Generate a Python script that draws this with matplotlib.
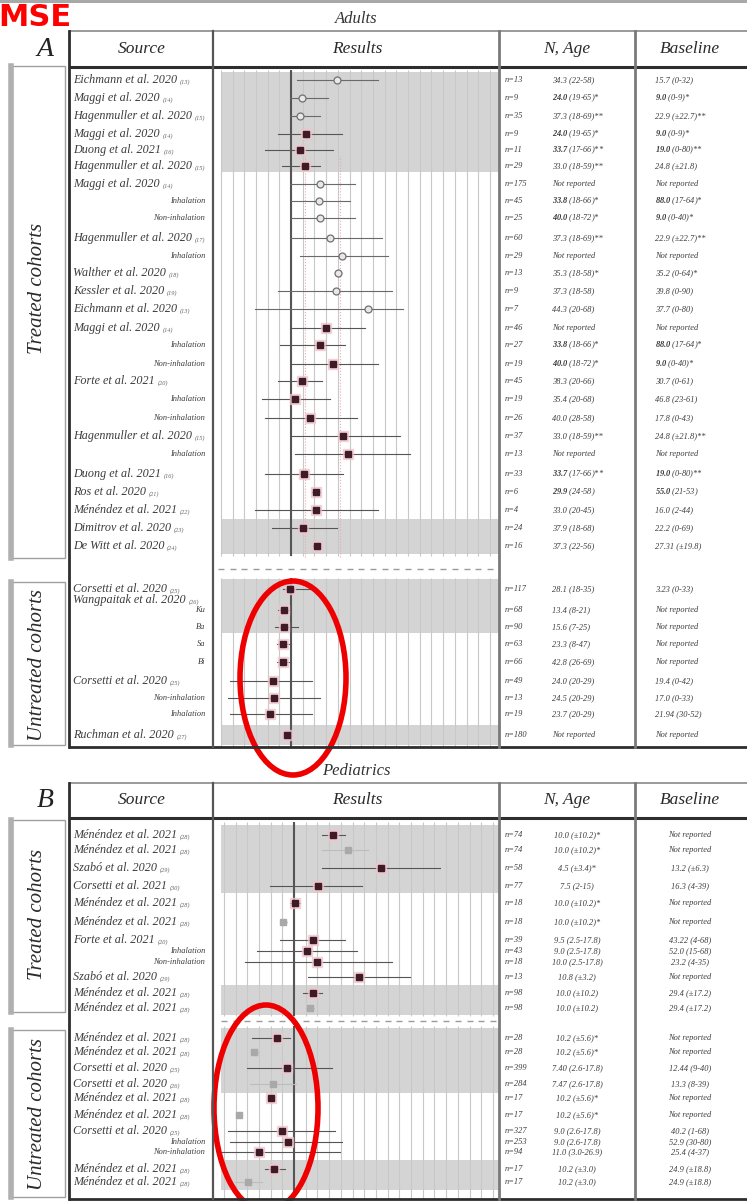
import numpy as np
import matplotlib
matplotlib.use("Agg")
import matplotlib.pyplot as plt
from matplotlib.patches import Ellipse, Rectangle

plt.rcParams['font.family'] = ['Liberation Serif', 'DejaVu Serif']
plt.rcParams['mathtext.fontset'] = 'custom'
plt.rcParams['mathtext.rm'] = 'Liberation Serif:italic'
plt.rcParams['mathtext.it'] = 'Liberation Serif:italic'
plt.rcParams['mathtext.bf'] = 'Liberation Serif:bold:italic'

W, H = 747, 1201
PXU = 46.8          # pixels per effect unit in the results column
TXT = '#3c3c3c'

# ---------------- Adults, treated cohorts ----------------
a_tr_src = ["Eichmann et al. 2020", "Maggi et al. 2020", "Hagenmuller et al. 2020", "Maggi et al. 2020",
            "Duong et al. 2021", "Hagenmuller et al. 2020", "Maggi et al. 2020", "Inhalation",
            "Non-inhalation", "Hagenmuller et al. 2020", "Inhalation", "Walther et al. 2020",
            "Kessler et al. 2020", "Eichmann et al. 2020", "Maggi et al. 2020", "Inhalation",
            "Non-inhalation", "Forte et al. 2021", "Inhalation", "Non-inhalation",
            "Hagenmuller et al. 2020", "Inhalation", "Duong et al. 2021", "Ros et al. 2020",
            "Ménéndez et al. 2021", "Dimitrov et al. 2020", "De Witt et al. 2020"]
a_tr_ref = ["(13)", "(14)", "(15)", "(14)", "(16)", "(15)", "(14)", "", "", "(17)", "", "(18)",
            "(19)", "(13)", "(14)", "", "", "(20)", "", "", "(15)", "", "(16)", "(21)", "(22)", "(23)", "(24)"]
a_tr_est = [0.98, 0.24, 0.19, 0.32, 0.19, 0.30, 0.62, 0.60, 0.62, 0.83, 1.09, 1.00, 0.96, 1.65,
            0.75, 0.62, 0.90, 0.24, 0.09, 0.41, 1.11, 1.22, 0.28, 0.53, 0.53, 0.26, 0.56]
a_tr_lo = [0.13, -0.02, -0.02, -0.28, -0.56, -0.19, -0.02, 0.00, 0.00, -0.02, 0.19, 0.94, -0.28, -0.77,
           -0.02, -0.24, -0.02, -0.28, -0.62, -0.56, -0.02, 0.09, -0.56, 0.45, -0.77, -0.41, 0.47]
a_tr_hi = [1.86, 0.79, 0.62, 1.09, 0.90, 0.62, 1.37, 1.26, 1.37, 1.94, 2.07, 1.07, 2.16, 2.40,
           1.58, 1.15, 1.86, 0.66, 0.83, 1.41, 2.33, 2.54, 1.11, 0.62, 1.86, 0.98, 0.62]
a_tr_kind = ["open"] * 3 + ["filled"] * 3 + ["open"] * 8 + ["filled"] * 13
a_tr_n = ["n=13", "n=9", "n=35", "n=9", "n=11", "n=29", "n=175", "n=45", "n=25", "n=60", "n=29",
          "n=13", "n=9", "n=7", "n=46", "n=27", "n=19", "n=45", "n=19", "n=26", "n=37", "n=13",
          "n=33", "n=6", "n=4", "n=24", "n=16"]
a_tr_age = ["34.3 (22-58)", r"$\mathbf{24.0}$ (19-65)*", "37.3 (18-69)**", r"$\mathbf{24.0}$ (19-65)*",
            r"$\mathbf{33.7}$ (17-66)**", "33.0 (18-59)**", "Not reported", r"$\mathbf{33.8}$ (18-66)*",
            r"$\mathbf{40.0}$ (18-72)*", "37.3 (18-69)**", "Not reported", "35.3 (18-58)*",
            "37.3 (18-58)", "44.3 (20-68)", "Not reported", r"$\mathbf{33.8}$ (18-66)*",
            r"$\mathbf{40.0}$ (18-72)*", "38.3 (20-66)", "35.4 (20-68)", "40.0 (28-58)",
            "33.0 (18-59)**", "Not reported", r"$\mathbf{33.7}$ (17-66)**", r"$\mathbf{29.9}$ (24-58)",
            "33.0 (20-45)", "37.9 (18-68)", "37.3 (22-56)"]
a_tr_base = ["15.7 (0-32)", r"$\mathbf{9.0}$ (0-9)*", "22.9 (±22.7)**", r"$\mathbf{9.0}$ (0-9)*",
             r"$\mathbf{19.0}$ (0-80)**", "24.8 (±21.8)", "Not reported", r"$\mathbf{88.0}$ (17-64)*",
             r"$\mathbf{9.0}$ (0-40)*", "22.9 (±22.7)**", "Not reported", "35.2 (0-64)*",
             "39.8 (0-90)", "37.7 (0-80)", "Not reported", r"$\mathbf{88.0}$ (17-64)*",
             r"$\mathbf{9.0}$ (0-40)*", "30.7 (0-61)", "46.8 (23-61)", "17.8 (0-43)",
             "24.8 (±21.8)**", "Not reported", r"$\mathbf{19.0}$ (0-80)**", r"$\mathbf{55.0}$ (21-53)",
             "16.0 (2-44)", "22.2 (0-69)", "27.31 (±19.8)"]

# ---------------- Adults, untreated cohorts ----------------
a_un_src = ["Corsetti et al. 2020", "Ku", "Ba", "Sa", "Bi", "Corsetti et al. 2020",
            "Non-inhalation", "Inhalation", "Ruchman et al. 2020"]
a_un_ref = ["(25)", "", "", "", "", "(25)", "", "", "(27)"]
a_un_est = [-0.02, -0.15, -0.15, -0.17, -0.17, -0.38, -0.36, -0.45, -0.09]
a_un_lo = [-0.17, -0.28, -0.34, -0.30, -0.30, -1.30, -1.35, -1.30, -0.15]
a_un_hi = [0.41, 0.00, 0.15, 0.00, 0.00, 0.45, 0.62, 0.45, -0.02]
a_un_kind = ["filled"] * 9
a_un_n = ["n=117", "n=68", "n=90", "n=63", "n=66", "n=49", "n=13", "n=19", "n=180"]
a_un_age = ["28.1 (18-35)", "13.4 (8-21)", "15.6 (7-25)", "23.3 (8-47)", "42.8 (26-69)",
            "24.0 (20-29)", "24.5 (20-29)", "23.7 (20-29)", "Not reported"]
a_un_base = ["3.23 (0-33)", "Not reported", "Not reported", "Not reported", "Not reported",
             "19.4 (0-42)", "17.0 (0-33)", "21.94 (30-52)", "Not reported"]

# ---------------- Pediatrics, treated cohorts ----------------
p_tr_src = ["Ménéndez et al. 2021", "Ménéndez et al. 2021", "Szabó et al. 2020", "Corsetti et al. 2021",
            "Ménéndez et al. 2021", "Ménéndez et al. 2021", "Forte et al. 2021", "Inhalation",
            "Non-inhalation", "Szabó et al. 2020", "Ménéndez et al. 2021", "Ménéndez et al. 2021"]
p_tr_ref = ["(28)", "(28)", "(29)", "(30)", "(28)", "(28)", "(20)", "", "", "(29)", "(28)", "(28)"]
p_tr_est = [0.83, 1.15, 1.86, 0.51, 0.02, -0.24, 0.41, 0.28, 0.49, 1.39, 0.41, 0.34]
p_tr_lo = [0.60, 0.60, 0.60, -0.51, -0.09, -0.30, -0.30, -0.79, -1.05, 0.30, 0.19, 0.26]
p_tr_hi = [1.09, 1.58, 3.12, 1.45, 0.13, -0.15, 1.09, 1.35, 2.09, 2.48, 0.60, 0.43]
p_tr_kind = ["filled", "light", "filled", "filled", "filled", "light", "filled", "filled",
             "filled", "filled", "filled", "light"]
p_tr_n = ["n=74", "n=74", "n=58", "n=77", "n=18", "n=18", "n=39", "n=43", "n=18", "n=13", "n=98", "n=98"]
p_tr_age = ["10.0 (±10.2)*", "10.0 (±10.2)*", "4.5 (±3.4)*", "7.5 (2-15)", "10.0 (±10.2)*",
            "10.0 (±10.2)*", "9.5 (2.5-17.8)", "9.0 (2.5-17.8)", "10.0 (2.5-17.8)", "10.8 (±3.2)",
            "10.0 (±10.2)", "10.0 (±10.2)"]
p_tr_base = ["Not reported", "Not reported", "13.2 (±6.3)", "16.3 (4-39)", "Not reported",
             "Not reported", "43.22 (4-68)", "52.0 (15-68)", "23.2 (4-35)", "Not reported",
             "29.4 (±17.2)", "29.4 (±17.2)"]

# ---------------- Pediatrics, untreated cohorts ----------------
p_un_src = ["Ménéndez et al. 2021", "Ménéndez et al. 2021", "Corsetti et al. 2020", "Corsetti et al. 2020",
            "Ménéndez et al. 2021", "Ménéndez et al. 2021", "Corsetti et al. 2020", "Inhalation",
            "Non-inhalation", "Ménéndez et al. 2021", "Ménéndez et al. 2021"]
p_un_ref = ["(28)", "(28)", "(25)", "(26)", "(28)", "(28)", "(25)", "", "", "(28)", "(28)"]
p_un_est = [-0.36, -0.85, -0.15, -0.45, -0.49, -1.18, -0.26, -0.13, -0.75, -0.43, -0.98]
p_un_lo = [-0.90, -0.92, -1.00, -0.94, -0.55, -1.24, -1.41, -1.37, -1.54, -0.62, -1.26]
p_un_hi = [-0.09, -0.77, 0.81, 0.04, -0.43, -1.12, 0.88, 1.03, 0.98, -0.19, -0.68]
p_un_kind = ["filled", "light", "filled", "light", "filled", "light", "filled", "filled",
             "filled", "filled", "light"]
p_un_n = ["n=28", "n=28", "n=399", "n=284", "n=17", "n=17", "n=327", "n=253", "n=94", "n=17", "n=17"]
p_un_age = ["10.2 (±5.6)*", "10.2 (±5.6)*", "7.40 (2.6-17.8)", "7.47 (2.6-17.8)", "10.2 (±5.6)*",
            "10.2 (±5.6)*", "9.0 (2.6-17.8)", "9.0 (2.6-17.8)", "11.0 (3.0-26.9)", "10.2 (±3.0)",
            "10.2 (±3.0)"]
p_un_base = ["Not reported", "Not reported", "12.44 (9-40)", "13.3 (8-39)", "Not reported",
             "Not reported", "40.2 (1-68)", "52.9 (30-80)", "25.4 (4-37)", "24.9 (±18.8)",
             "24.9 (±18.8)"]

# row layout (pixel rows from the top)
a_tr_rows = [80, 98, 116, 134, 150, 166, 184, 201, 218, 238, 256, 273, 291, 309, 328, 345, 364,
             381, 399, 418, 436, 454, 474, 492, 510, 528, 546]
a_un_rows = [589, 610, 627, 644, 662, 681, 698, 714, 735]
p_tr_rows = [835, 850, 868, 886, 903, 922, 940, 951, 962, 977, 993, 1008]
p_un_rows = [1038, 1052, 1068, 1084, 1098, 1115, 1131, 1142, 1152, 1169, 1182]

fig = plt.figure(figsize=(W / 100, H / 100), dpi=100)


def results_panel(top, bottom, zero_px, sections, shades, tick_y):
    ax = fig.add_axes([215 / W, 1 - bottom / H, 285 / W, (bottom - top) / H])
    ax.set_xlim((215 - zero_px) / PXU, (500 - zero_px) / PXU)
    ax.set_ylim(bottom, top)
    ax.axis('off')
    for y0, y1 in shades:
        ax.axhspan(y0, y1, xmin=0.02, color='#d4d4d4', lw=0, zorder=0)
    grid = np.arange(-1.5, 4.5, 0.25)
    for y0, y1 in sections:
        ax.vlines(grid, y0, y1, color='#c8c8c8', lw=0.8, zorder=1)
        ax.vlines(0, y0, y1, color='#555555', lw=1.5, zorder=2)
    ax.plot(grid, [tick_y] * len(grid), ls='none', marker='_', ms=4, color='#9a9a9a', zorder=2)
    return ax


def forest(ax, rows, est, lo, hi, kind):
    for y, e, l, h, k in zip(rows, est, lo, hi, kind):
        if k == "light":
            ax.plot([l, h], [y, y], color='#bdbdbd', lw=0.8, zorder=3)
            ax.plot(e, y, marker='s', ms=4, color='#a9a9a9', zorder=4)
        elif k == "open":
            ax.plot([l, h], [y, y], color='#6a6a6a', lw=0.8, zorder=3)
            ax.plot(e, y, marker='o', ms=5, mfc='#e8e8e8', mec='#707070', mew=0.9, zorder=4)
        else:
            ax.plot([l, h], [y, y], color='#555555', lw=0.8, zorder=3)
            ax.plot(e, y, marker='s', ms=6.5, color='#f2c4cc', alpha=0.7, zorder=4)
            ax.plot(e, y, marker='s', ms=5, color='#3d1c27', zorder=5)


axA = results_panel(68, 747, 291, [(70, 556), (578, 747)],
                    [(72, 172), (519, 554), (579, 633), (725, 745)], 569)
axA.axvline(0.30, ymin=0.28, ymax=0.87, color='#e8aab5', lw=0.8, ls=':', zorder=1)
axA.axvline(1.05, ymin=0.28, ymax=0.87, color='#e8aab5', lw=0.8, ls=':', zorder=1)
forest(axA, a_tr_rows, a_tr_est, a_tr_lo, a_tr_hi, a_tr_kind)
forest(axA, a_un_rows, a_un_est, a_un_lo, a_un_hi, a_un_kind)

axB = results_panel(818, 1199, 294, [(822, 1016), (1026, 1199)],
                    [(825, 893), (985, 1015), (1028, 1093), (1160, 1190)], 1021)
forest(axB, p_tr_rows, p_tr_est, p_tr_lo, p_tr_hi, p_tr_kind)
forest(axB, p_un_rows, p_un_est, p_un_lo, p_un_hi, p_un_kind)

# table frame, headers and text columns in pixel space
ov = fig.add_axes([0, 0, 1, 1], facecolor='none')
ov.set_xlim(0, W)
ov.set_ylim(H, 0)
ov.axis('off')
ov.add_patch(Rectangle((0, 0), W, 3, color='#a8a8a8', lw=0))


def table_frame(title, letter, top, head_bot, bottom, boxes):
    ov.text(356, top - 12, title, ha='center', va='center', style='italic', fontsize=12, color='#333')
    ov.plot([70, W], [top, top], color='#9a9a9a', lw=1.4)
    ov.plot([70, W], [head_bot, head_bot], color='#2e2e2e', lw=2.2)
    ov.plot([70, W], [bottom, bottom], color='#2e2e2e', lw=2.0)
    ov.plot([69, 69], [top, bottom], color='#2e2e2e', lw=2.0)
    ov.plot([213, 213], [top, bottom], color='#555', lw=1.6)
    ov.plot([499, 499], [top, bottom], color='#7a7a7a', lw=2.0)
    ov.plot([635, 635], [top, bottom], color='#7a7a7a', lw=2.0)
    hy = (top + head_bot) / 2
    ov.text(45, hy, letter, ha='center', va='center', style='italic', fontsize=20, color='#222')
    for x, s in [(142, "Source"), (357, "Results"), (567, "N, Age"), (690, "Baseline")]:
        ov.text(x, hy, s, ha='center', va='center', style='italic', fontsize=12.5, color='#2a2a2a')
    for y0, y1, label, ly in boxes:
        ov.add_patch(Rectangle((12, y0), 53, y1 - y0, fill=False, ec='#a0a0a0', lw=1.0))
        ov.plot([10.5, 10.5], [y0, y1], color='#b0b0b0', lw=4)
        ov.text(38, ly, label, rotation=90, ha='center', va='center',
                style='italic', fontsize=15, color='#2a2a2a')


def source_col(rows, src, ref):
    for y, s, r in zip(rows, src, ref):
        if r:
            t = ov.text(73, y, s, ha='left', va='center', style='italic', fontsize=8.7, color=TXT)
            ov.annotate(r, xy=(1, 0.1), xycoords=t, xytext=(2, 0), textcoords='offset points',
                        ha='left', va='bottom', fontsize=4.5, style='italic', color='#666')
        else:
            ov.text(205, y, s, ha='right', va='center', style='italic', fontsize=6, color=TXT)


def info_cols(rows, n, age, base, centred):
    for y, a, b, c in zip(rows, n, age, base):
        ov.text(505, y, a, ha='left', va='center', style='italic', fontsize=6, color=TXT)
        if centred:
            ov.text(577, y, b, ha='center', va='center', style='italic', fontsize=6, color=TXT)
            ov.text(690, y, c, ha='center', va='center', style='italic', fontsize=6, color=TXT)
        else:
            ov.text(552, y, b, ha='left', va='center', style='italic', fontsize=6, color=TXT)
            ov.text(655, y, c, ha='left', va='center', style='italic', fontsize=6, color=TXT)


table_frame("Adults", "A", 31, 67, 747,
            [(66, 558, "Treated cohorts", 288), (582, 745, "Untreated cohorts", 665)])
source_col(a_tr_rows, a_tr_src, a_tr_ref)
source_col(a_un_rows, a_un_src, a_un_ref)
t = ov.text(73, 600, "Wangpaitak et al. 2020", ha='left', va='center', style='italic', fontsize=8.7, color=TXT)
ov.annotate("(26)", xy=(1, 0.1), xycoords=t, xytext=(2, 0), textcoords='offset points',
            ha='left', va='bottom', fontsize=4.5, style='italic', color='#666')
info_cols(a_tr_rows, a_tr_n, a_tr_age, a_tr_base, False)
info_cols(a_un_rows, a_un_n, a_un_age, a_un_base, False)

table_frame("Pediatrics", "B", 783, 818, 1199,
            [(820, 1012, "Treated cohorts", 914), (1030, 1197, "Untreated cohorts", 1114)])
source_col(p_tr_rows, p_tr_src, p_tr_ref)
source_col(p_un_rows, p_un_src, p_un_ref)
info_cols(p_tr_rows, p_tr_n, p_tr_age, p_tr_base, True)
info_cols(p_un_rows, p_un_n, p_un_age, p_un_base, True)

# red call-outs
ov.text(-2, 18, "MSE", ha='left', va='center', fontsize=22, fontweight='bold',
        family='DejaVu Sans', color='#ff0000')
ov.add_patch(Ellipse((293, 678), 106, 194, fill=False, ec='#ee0000', lw=4))
ov.add_patch(Ellipse((266, 1108), 104, 206, fill=False, ec='#ee0000', lw=4))

fig.savefig("out.png", dpi=100)
